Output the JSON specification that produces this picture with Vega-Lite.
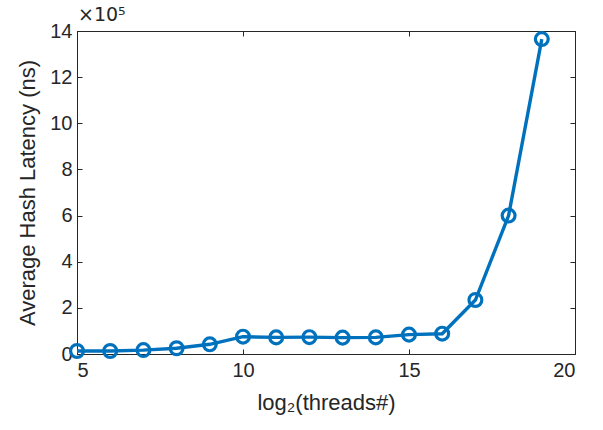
{
  "$schema": "https://vega.github.io/schema/vega-lite/v6.json",
  "autosize": "none",
  "width": 498,
  "height": 323,
  "padding": {"left": 77, "top": 31, "right": 28, "bottom": 76},
  "background": "white",
  "title": {"text": "×10⁵", "anchor": "start", "frame": "group", "font": "DejaVu Sans", "fontSize": 19, "fontWeight": "normal", "color": "#262626", "offset": -4, "dx": 1},
  "config": {
    "view": {"stroke": "#262626", "strokeWidth": 1},
    "axis": {"domainColor": "#262626", "tickColor": "#262626", "labelColor": "#262626", "titleColor": "#262626", "labelFont": "Liberation Sans", "titleFont": "Liberation Sans", "labelFontSize": 20, "titleFontSize": 22, "titleFontWeight": "normal", "grid": false, "tickSize": -5, "labelPadding": 11}
  },
  "data": {"values": [
    {"x": 5, "y": 0.13},
    {"x": 6, "y": 0.13},
    {"x": 7, "y": 0.17},
    {"x": 8, "y": 0.25},
    {"x": 9, "y": 0.42},
    {"x": 10, "y": 0.75},
    {"x": 11, "y": 0.72},
    {"x": 12, "y": 0.73},
    {"x": 13, "y": 0.71},
    {"x": 14, "y": 0.72},
    {"x": 15, "y": 0.84},
    {"x": 16, "y": 0.88},
    {"x": 17, "y": 2.34},
    {"x": 18, "y": 6.0},
    {"x": 19, "y": 13.65}
  ]},
  "layer": [
    {
      "mark": {"type": "line", "color": "#0072BD", "strokeWidth": 3.4, "point": {"filled": false, "shape": "circle", "size": 165, "strokeWidth": 3.2, "color": "#0072BD", "fill": "white", "fillOpacity": 0}},
      "encoding": {
        "x": {"field": "x", "type": "quantitative", "scale": {"domain": [5, 20], "nice": false, "zero": false}, "axis": {"values": [5, 10, 15, 20], "title": "log₂(threads#)", "titlePadding": 12}},
        "y": {"field": "y", "type": "quantitative", "scale": {"domain": [0, 14], "nice": false}, "axis": {"values": [0, 2, 4, 6, 8, 10, 12, 14], "title": "Average Hash Latency (ns)", "titlePadding": 10, "labelPadding": 10}}
      }
    },
    {
      "mark": {"type": "line", "opacity": 0},
      "encoding": {
        "x": {"field": "x", "type": "quantitative", "scale": {"domain": [5, 20], "nice": false, "zero": false}, "axis": {"orient": "top", "values": [5, 10, 15, 20], "labels": false, "title": null}},
        "y": {"field": "y", "type": "quantitative", "scale": {"domain": [0, 14], "nice": false}, "axis": {"orient": "right", "values": [0, 2, 4, 6, 8, 10, 12, 14], "labels": false, "title": null}}
      }
    }
  ],
  "resolve": {"axis": {"x": "independent", "y": "independent"}}
}
